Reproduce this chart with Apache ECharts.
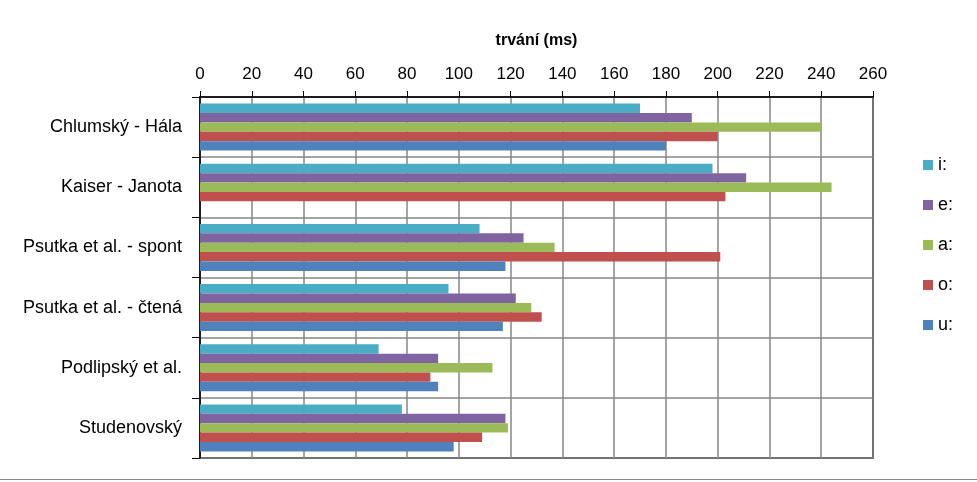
<!DOCTYPE html>
<html>
<head>
<meta charset="utf-8">
<script src="https://cdn.jsdelivr.net/npm/echarts@6/dist/echarts.min.js"></script>
<style>html,body{margin:0;padding:0;background:#fff;}#c{width:977px;height:482px;}</style>
</head>
<body>
<div id="c"></div>
<script>
const categories = ['Chlumský - Hála', 'Kaiser - Janota', 'Psutka et al. - spont', 'Psutka et al. - čtená', 'Podlipský et al.', 'Studenovský'];
const seriesNames = ['i:', 'e:', 'a:', 'o:', 'u:'];
const valuesI = [170, 198, 108, 96, 69, 78];
const valuesE = [190, 211, 125, 122, 92, 118];
const valuesA = [240, 244, 137, 128, 113, 119];
const valuesO = [200, 203, 201, 132, 89, 109];
const valuesU = [180, null, 118, 117, 92, 98];
const tickMin = 0, tickMax = 260, tickStep = 20;
const colors = ['#4BACC6', '#8064A2', '#9BBB59', '#C0504D', '#4F81BD'];

const allValues = [valuesI, valuesE, valuesA, valuesO, valuesU];
const font = 'Liberation Sans';
const chart = echarts.init(document.getElementById('c'));
chart.setOption({
  animation: false,
  backgroundColor: '#fff',
  color: colors,
  textStyle: { fontFamily: font },
  grid: { left: 200, right: 104, top: 97, bottom: 24, show: true, borderColor: '#000', borderWidth: 1.5, backgroundColor: 'transparent' },
  legend: {
    orient: 'vertical', left: 918, top: 151, itemWidth: 10, itemHeight: 10, itemGap: 22,
    icon: 'rect',
    textStyle: { fontFamily: font, fontSize: 18, color: '#000' },
    data: seriesNames
  },
  xAxis: {
    type: 'value', position: 'top', min: tickMin, max: tickMax, interval: tickStep,
    name: 'trvání (ms)', nameLocation: 'middle', nameGap: 48,
    nameTextStyle: { fontFamily: font, fontSize: 16, fontWeight: 'bold', color: '#000' },
    axisLine: { show: true, lineStyle: { color: '#000', width: 1.5 } },
    axisTick: { show: true, length: 6, inside: false, lineStyle: { color: '#000' } },
    axisLabel: { fontFamily: font, fontSize: 17, color: '#000', margin: 14 },
    splitLine: { show: true, lineStyle: { color: '#868686', width: 1.5 } }
  },
  yAxis: {
    type: 'category', inverse: true, data: categories,
    axisLine: { show: true, lineStyle: { color: '#000', width: 1.5 } },
    axisTick: { show: true, length: 8, lineStyle: { color: '#000' } },
    axisLabel: { fontFamily: font, fontSize: 18, color: '#000', margin: 18 },
    splitLine: { show: true, lineStyle: { color: '#868686', width: 1.5 } }
  },
  graphic: [{ type: 'rect', shape: { x: 0, y: 479, width: 977, height: 1 }, style: { fill: '#868686' } }],
  series: seriesNames.map((n, i) => ({
    name: n, type: 'bar', data: allValues[i], barGap: '0%', barCategoryGap: '22%',
    itemStyle: { color: colors[i] }
  }))
});
</script>
</body>
</html>
